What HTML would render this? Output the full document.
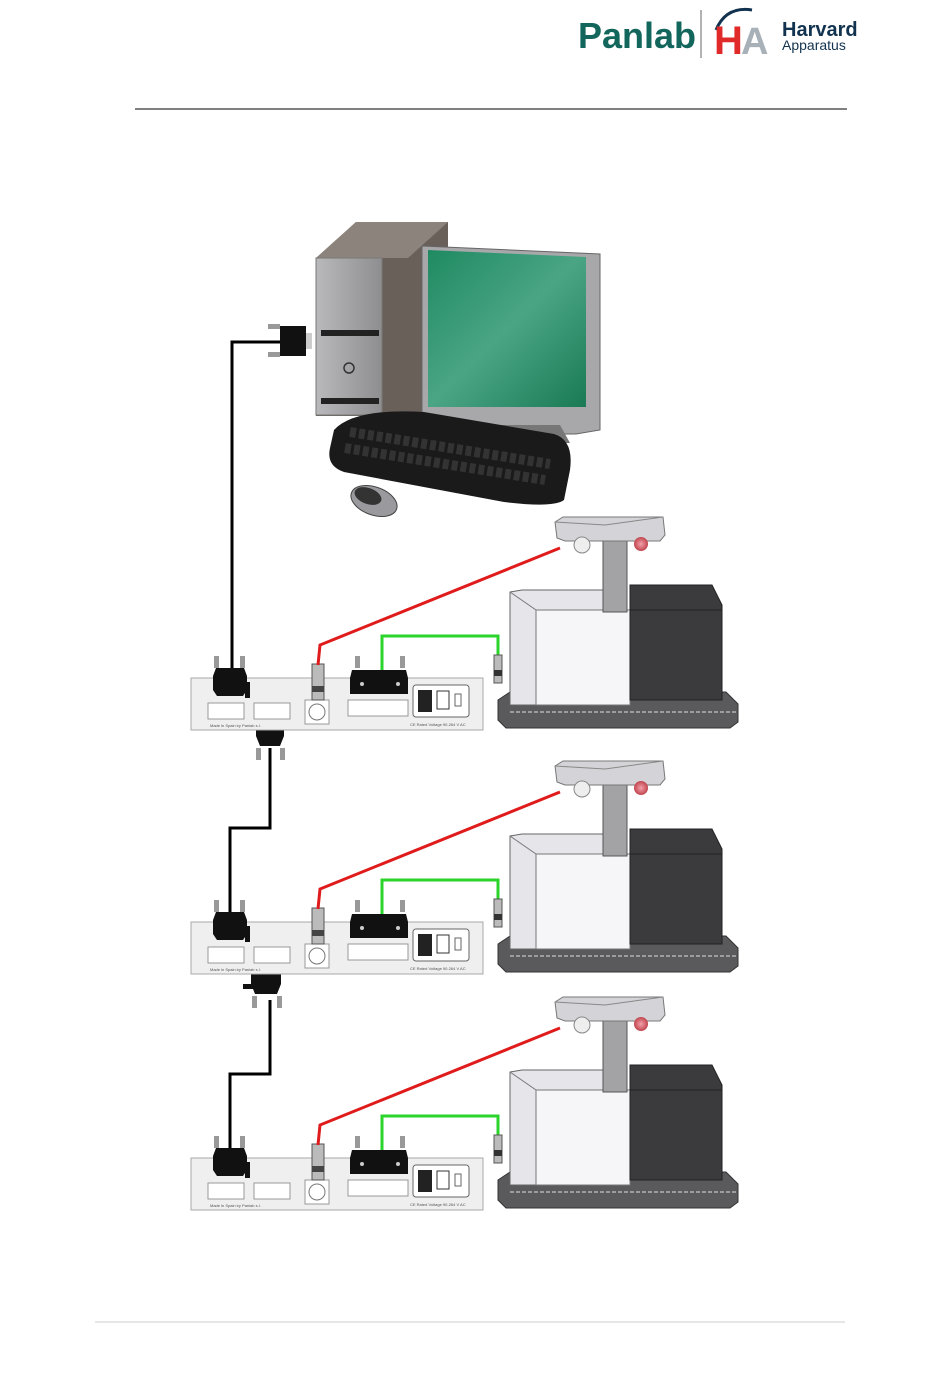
<!DOCTYPE html>
<html><head><meta charset="utf-8"><style>
html,body{margin:0;padding:0;background:#fff;}
svg{display:block;}
</style></head><body>
<svg width="950" height="1378" viewBox="0 0 950 1378" xmlns="http://www.w3.org/2000/svg" font-family="Liberation Sans, sans-serif">
<defs>
<linearGradient id="scr" x1="0" y1="0" x2="1" y2="1"><stop offset="0" stop-color="#1f8a62"/><stop offset="0.5" stop-color="#4aa585"/><stop offset="1" stop-color="#1a7a55"/></linearGradient>
<linearGradient id="tw" x1="0" y1="0" x2="1" y2="0"><stop offset="0" stop-color="#b9b9bb"/><stop offset="1" stop-color="#8e8e90"/></linearGradient>
<radialGradient id="ball"><stop offset="0" stop-color="#f3a0a8"/><stop offset="1" stop-color="#c0454f"/></radialGradient>
<g id="unit">
  <rect x="191" y="678" width="292" height="52" fill="#efefef" stroke="#aaa"/>
  <rect x="208" y="703" width="36" height="16" fill="#fff" stroke="#999"/>
  <rect x="254" y="703" width="36" height="16" fill="#fff" stroke="#999"/>
  <rect x="305" y="700" width="24" height="24" fill="#fff" stroke="#999"/>
  <circle cx="317" cy="712" r="8" fill="none" stroke="#777"/>
  <rect x="348" y="700" width="60" height="16" fill="#fff" stroke="#999"/>
  <rect x="413" y="685" width="56" height="32" rx="3" fill="#fff" stroke="#666"/>
  <rect x="418" y="690" width="14" height="22" fill="#222"/>
  <rect x="437" y="691" width="12" height="18" fill="#fff" stroke="#333"/>
  <rect x="455" y="694" width="6" height="12" fill="#fff" stroke="#666"/>
  <text x="210" y="727" font-size="4" fill="#555">Made in Spain by Panlab s.l.</text>
  <text x="410" y="726" font-size="4" fill="#555">CE  Rated Voltage 90-264 V AC</text>
  <rect x="214" y="656" width="5" height="12" fill="#999"/><rect x="240" y="656" width="5" height="12" fill="#999"/>
  <path d="M216 668 h28 l3 8 v14 l-4 6 h-26 l-4 -6 v-14z" fill="#111"/>
  <rect x="245" y="682" width="5" height="16" fill="#111"/>
  <rect x="312" y="664" width="12" height="36" fill="#bbb" stroke="#555"/>
  <rect x="312" y="686" width="12" height="6" fill="#444"/>
  <rect x="355" y="656" width="5" height="12" fill="#999"/><rect x="400" y="656" width="5" height="12" fill="#999"/>
  <path d="M352 670 h54 l2 8 v16 h-58 v-16z" fill="#111"/>
  <circle cx="362" cy="684" r="2" fill="#ccc"/><circle cx="398" cy="684" r="2" fill="#ccc"/>
  <polyline points="318,665 320,645 560,548" fill="none" stroke="#e01b1b" stroke-width="3"/>
  <polyline points="382,670 382,636 498,636 498,655" fill="none" stroke="#2bd42b" stroke-width="3"/>
  <rect x="494" y="655" width="8" height="28" fill="#bbb" stroke="#555"/>
  <rect x="494" y="670" width="8" height="6" fill="#333"/>
  <path d="M498 700 l12 -8 h216 l12 12 v18 l-8 6 h-224 l-8 -8z" fill="#5a5a5c" stroke="#333"/>
  <path d="M510 712 h226" stroke="#ddd" stroke-width="1" stroke-dasharray="4 2"/>
  <path d="M510 592 l12 -2 h98 v115 h-110z" fill="#e6e6ea" stroke="#666"/>
  <rect x="536" y="610" width="94" height="95" fill="#f6f6f9" stroke="#777"/>
  <path d="M510 592 l26 18" stroke="#777" fill="none"/>
  <path d="M630 585 h82 l10 20 v95 h-92z" fill="#3b3b3d" stroke="#222"/>
  <path d="M630 610 h92" stroke="#222"/>
  <rect x="603" y="538" width="24" height="74" fill="#a3a3a6" stroke="#555"/>
  <path d="M555 522 l8 -5 h100 l2 18 l-5 6 h-95 l-8 -3z" fill="#d4d4d8" stroke="#777"/>
  <path d="M555 522 l50 3 l58 -8" stroke="#888" fill="none"/>
  <circle cx="582" cy="545" r="8" fill="#eee" stroke="#888"/>
  <circle cx="641" cy="544" r="7" fill="url(#ball)"/>
</g>
</defs>

<text x="578" y="48" font-size="36" font-weight="bold" fill="#12665c">Panlab</text>
<line x1="701" y1="10" x2="701" y2="58" stroke="#999" stroke-width="1.5"/>
<path d="M716 30 q10 -24 36 -20" fill="none" stroke="#12334f" stroke-width="3"/>
<text x="714" y="54" font-size="40" font-weight="bold" fill="#e02a2a">H</text>
<text x="741" y="54" font-size="38" font-weight="bold" fill="#a8b0b8">A</text>
<text x="782" y="36" font-size="20" font-weight="bold" fill="#12334f">Harvard</text>
<text x="782" y="50" font-size="14" fill="#12334f">Apparatus</text>
<line x1="135" y1="109" x2="847" y2="109" stroke="#000" stroke-width="1"/>
<line x1="95" y1="1322" x2="845" y2="1322" stroke="#ccc" stroke-width="1"/>

<path d="M316 258 l40 -36 h92 v180 l-32 14 h-100z" fill="#6a605a"/>
<path d="M316 258 l40 -36 h92 l-40 36z" fill="#8c847c"/>
<rect x="316" y="258" width="66" height="157" fill="url(#tw)" stroke="#777"/>
<rect x="321" y="330" width="58" height="6" fill="#222"/>
<rect x="321" y="398" width="58" height="6" fill="#222"/>
<circle cx="349" cy="368" r="5" fill="none" stroke="#333" stroke-width="1.5"/>
<path d="M422 246 l178 8 v176 l-24 4 h-154z" fill="#a8a8ab" stroke="#666"/>
<path d="M428 250 l158 7 v150 h-158z" fill="url(#scr)"/>
<path d="M470 425 h90 l10 18 h-110z" fill="#777"/>
<path d="M334 430 q20 -22 90 -18 l130 22 q20 6 16 36 l-6 30 q-10 8 -60 2 l-160 -30 q-18 -6 -14 -24z" fill="#1a1a1a"/>
<path d="M350 432 l200 32" stroke="#333" stroke-width="10" stroke-dasharray="6 3"/>
<path d="M345 448 l200 32" stroke="#333" stroke-width="10" stroke-dasharray="6 3"/>
<ellipse cx="374" cy="501" rx="24" ry="14" transform="rotate(20 374 501)" fill="#9a9a9e" stroke="#444"/>
<ellipse cx="368" cy="496" rx="14" ry="8" transform="rotate(20 368 496)" fill="#333"/>

<polyline points="280,342 232,342 232,672" fill="none" stroke="#000" stroke-width="3"/>
<rect x="268" y="324" width="12" height="5" fill="#999"/><rect x="268" y="352" width="12" height="5" fill="#999"/>
<path d="M280 326 h26 v30 h-26z" fill="#111"/>
<rect x="306" y="333" width="6" height="16" fill="#ccc"/>

<polyline points="270,748 270,828 230,828 230,912" fill="none" stroke="#000" stroke-width="3"/>
<polyline points="270,1000 270,1074 230,1074 230,1150" fill="none" stroke="#000" stroke-width="3"/>
<path d="M256 718 h28 v18 l-4 10 h-20 l-4 -10z" fill="#111"/>
<rect x="256" y="748" width="5" height="12" fill="#999"/><rect x="280" y="748" width="5" height="12" fill="#999"/>
<path d="M251 966 h30 v18 l-4 10 h-22 l-4 -10z" fill="#111"/>
<rect x="243" y="984" width="10" height="5" fill="#111"/>
<rect x="252" y="996" width="5" height="12" fill="#999"/><rect x="277" y="996" width="5" height="12" fill="#999"/>

<use href="#unit"/>
<use href="#unit" transform="translate(0,244)"/>
<use href="#unit" transform="translate(0,480)"/>
</svg>
</body></html>
